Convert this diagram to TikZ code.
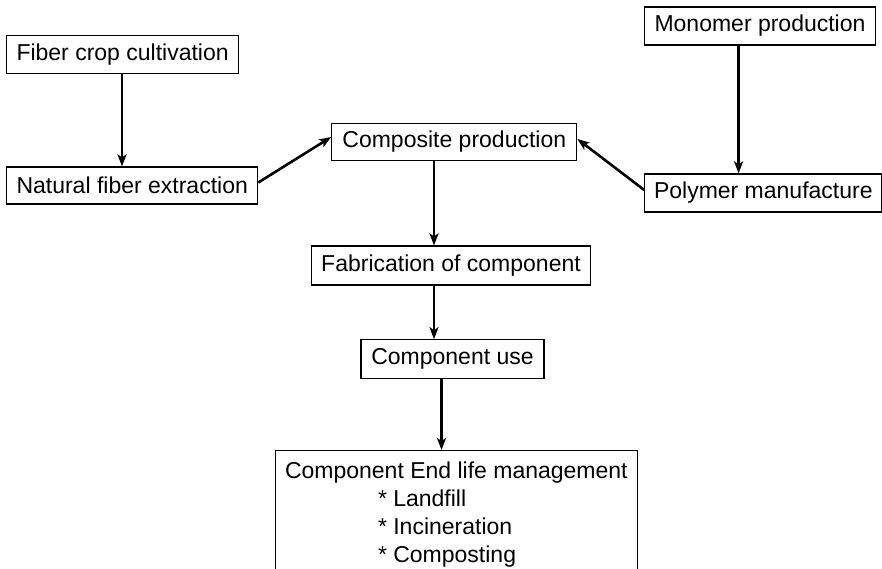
\documentclass[tikz,border=0pt]{standalone}
\usepackage{fontspec}
\setmainfont{Liberation Sans}
\usetikzlibrary{positioning,arrows.meta}

\tikzset{
  stage/.style={draw, line width=1.2pt, inner sep=0pt, font=\fontsize{23}{28}\selectfont},
  flow/.style={-{Stealth[length=12pt,width=9pt,inset=3pt]}, line width=2.6pt}
}

\begin{document}
\begin{tikzpicture}[x=1pt, y=-1pt]
  \useasboundingbox (0,0) rectangle (882,569);
  % left branch
  \node[stage, minimum width=232pt, minimum height=38pt] (crop) at (122.6,54.8) {Fiber crop cultivation};
  \node[stage, minimum width=251pt, minimum height=37pt] (fiber) at (132.2,185.5) {Natural fiber extraction};
  % right branch
  \node[stage, minimum width=231pt, minimum height=38pt] (mono) at (760,26) {Monomer production};
  \node[stage, minimum width=237pt, minimum height=38pt] (poly) at (763.3,193) {Polymer manufacture};
  % main line
  \node[stage, minimum width=245pt, minimum height=37.5pt] (comp) at (454.3,142) {Composite production};
  \node[stage, minimum width=279pt, minimum height=39pt] (fab) at (451,265.5) {Fabrication of component};
  \node[stage, minimum width=183pt, minimum height=38.5pt] (use) at (452.5,359) {Component use};
  \node[stage, anchor=north west, minimum width=362.5pt,
        align=left, inner xsep=9.5pt, inner ysep=11pt] (eol) at (274.5,450)
    {Component End life management\\
     \hspace{93pt}* Landfill\\
     \hspace{93pt}* Incineration\\
     \hspace{93pt}* Composting};

  \coordinate (cropout) at (122,74);
  \coordinate (monoout) at (738.6,45);
  \coordinate (compout) at (434,161);
  \coordinate (fabout) at (434,285);
  \coordinate (useout) at (441.5,378);

  \draw[flow] (cropout) -- (cropout |- fiber.north);
  \draw[flow] (monoout) -- (monoout |- poly.north);
  \draw[flow] ([yshift=3pt]fiber.east) -- ([yshift=5pt]comp.west);
  \draw[flow] ([yshift=3pt]poly.west) -- ([yshift=3pt]comp.east);
  \draw[flow] (compout) -- (compout |- fab.north);
  \draw[flow] (fabout) -- (fabout |- use.north);
  \draw[flow] (useout) -- (useout |- eol.north);
\end{tikzpicture}
\end{document}
